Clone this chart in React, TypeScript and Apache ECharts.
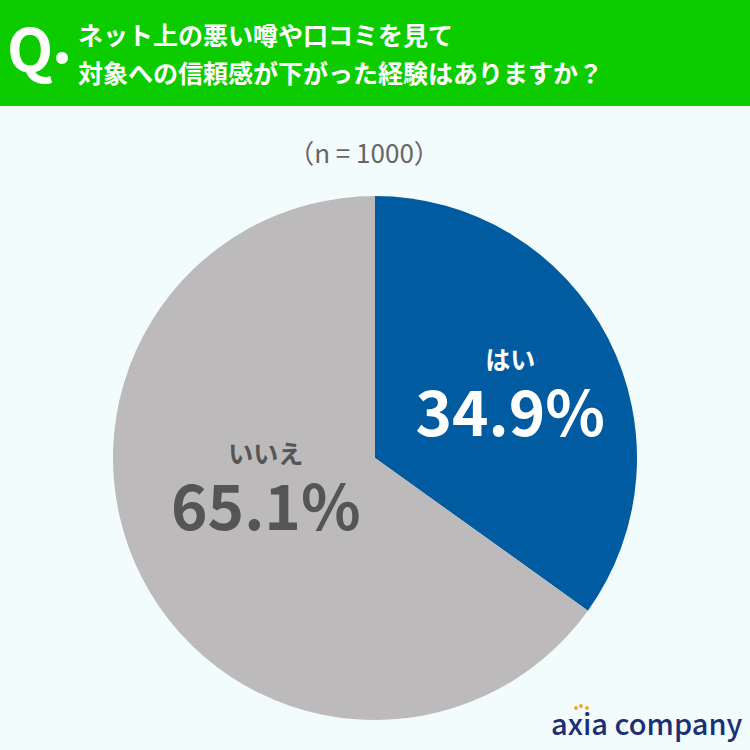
import React, { useEffect, useRef } from "react";
import * as echarts from "echarts";

const categories = ["はい", "いいえ"];
const values = [34.9, 65.1];
const colors = ["#005ba1", "#bcbaba"];
const labelColors = ["#ffffff", "#555555"];
const labelOffsets = [[16, -6], [10, -34]];
const questionLines = ["ネット上の悪い噂や口コミを見て", "対象への信頼感が下がった経験はありますか？"];
const sampleNote = "（n = 1000）";

export default function App() {
  const ref = useRef<HTMLDivElement>(null);
  useEffect(() => {
    document.body.style.margin = "0";
    const chart = echarts.init(ref.current!, null, { renderer: "svg" });
    const font = '"Noto Sans CJK JP", "Noto Sans", sans-serif';
    chart.setOption({
      animation: false,
      backgroundColor: "#f3fcfd",
      graphic: [
        { type: "rect", shape: { x: 0, y: 0, width: 750, height: 106 }, style: { fill: "#0ccc00" } },
        { type: "text", x: 7, y: 45, style: { text: "Q", fill: "#fff", font: `bold 60px ${font}`, textVerticalAlign: "middle" } },
        { type: "circle", shape: { cx: 62, cy: 58, r: 6 }, style: { fill: "#fff" } },
        { type: "text", x: 78, y: 34, style: { text: questionLines[0], fill: "#fff", font: `bold 25px ${font}`, textVerticalAlign: "middle" } },
        { type: "text", x: 78, y: 72, style: { text: questionLines[1], fill: "#fff", font: `bold 25px ${font}`, textVerticalAlign: "middle" } },
        { type: "text", x: 364, y: 151, style: { text: sampleNote, fill: "#666", font: `26px ${font}`, textAlign: "center", textVerticalAlign: "middle" } },
        { type: "text", x: 551, y: 722, style: { text: "axia company", fill: "#1b2f72", font: `500 29px ${font}`, textVerticalAlign: "middle" } },
        { type: "circle", shape: { cx: 576, cy: 708, r: 1.9 }, style: { fill: "#f5a623" } },
        { type: "circle", shape: { cx: 581, cy: 706, r: 1.9 }, style: { fill: "#f5a623" } },
        { type: "circle", shape: { cx: 587, cy: 708, r: 1.9 }, style: { fill: "#f5a623" } },
      ],
      series: [
        {
          type: "pie",
          center: [375, 458],
          radius: [0, 262],
          startAngle: 90,
          clockwise: true,
          silent: true,
          data: categories.map((name, i) => ({
            name,
            value: values[i],
            itemStyle: { color: colors[i] },
            label: {
              offset: labelOffsets[i],
              formatter: `{a|${name}}\n{b|${values[i].toFixed(1)}%}`,
              rich: {
                a: { color: labelColors[i], fontSize: 25, fontWeight: "bold", fontFamily: font, lineHeight: 36 },
                b: { color: labelColors[i], fontSize: 62, fontWeight: "bold", fontFamily: font, lineHeight: 66 },
              },
            },
          })),
          label: { show: true, position: "inside", align: "center" },
          labelLine: { show: false },
          itemStyle: { borderWidth: 0 },
        },
      ],
    });
    return () => chart.dispose();
  }, []);
  return <div ref={ref} style={{ width: 750, height: 750 }} />;
}
